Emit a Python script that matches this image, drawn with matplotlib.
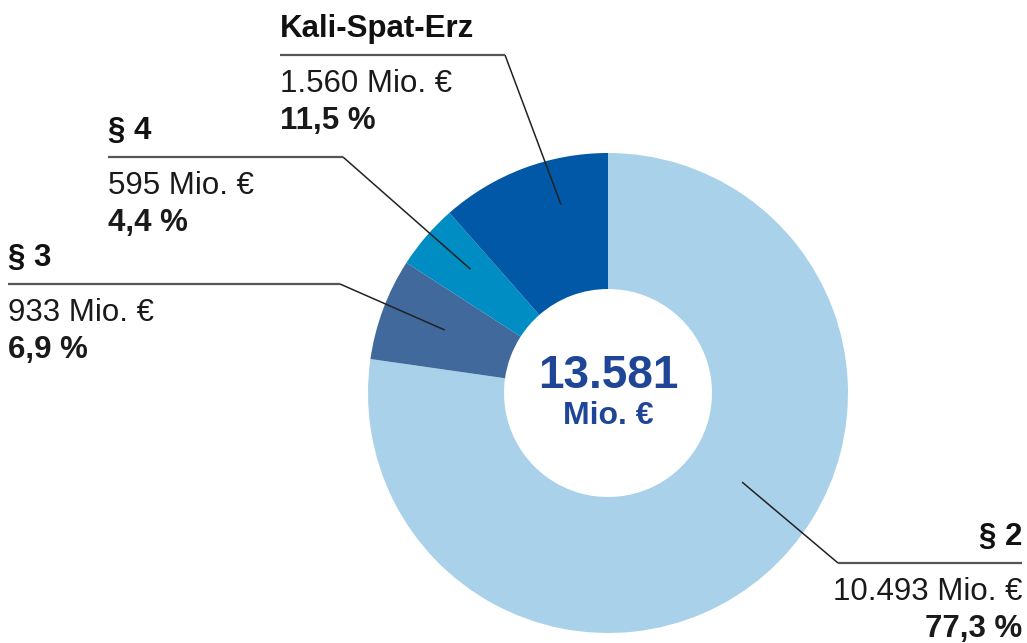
import numpy as np
import matplotlib
matplotlib.use("Agg")
import matplotlib.pyplot as plt

categories = ["§ 2", "§ 3", "§ 4", "Kali-Spat-Erz"]
values = [10493, 933, 595, 1560]
amount_labels = ["10.493 Mio. €", "933 Mio. €", "595 Mio. €", "1.560 Mio. €"]
percent_labels = ["77,3 %", "6,9 %", "4,4 %", "11,5 %"]
total_label = "13.581"
unit_label = "Mio. €"

colors = ["#a9d1e9", "#41699b", "#008dc4", "#0058a6"]
center_color = "#1f4597"
FONT = ["Liberation Sans Narrow", "Liberation Sans", "DejaVu Sans"]

W, H = 1027, 643
fig = plt.figure(figsize=(W / 100, H / 100), dpi=100)
ax = fig.add_axes([0, 0, 1, 1])

def Y(y):
    return H - y

cx, cy, R = 608, Y(393), 240
ring = 136
ax.pie(values, colors=colors, startangle=90, counterclock=False,
       center=(cx, cy), radius=R, frame=True,
       wedgeprops=dict(width=ring, linewidth=0))
ax.set_xlim(0, W)
ax.set_ylim(0, H)
ax.set_aspect("equal")
ax.axis("off")

# layout: (anchor angle deg, anchor radius, elbow x, line y, line end x, align)
layout = [
    (-33.6, 161, 838, 563, 1022, "right"),
    (158.9, 175, 340, 284, 8, "left"),
    (138.0, 185, 343, 157, 108, "left"),
    (104.0, 194, 505, 55, 280, "left"),
]

fs = 22.5
for i, (ang, r, ex, ly, lx, al) in enumerate(layout):
    a = np.deg2rad(ang)
    px, py = cx + r * np.cos(a), cy + r * np.sin(a)
    ax.plot([px, ex], [py, Y(ly)], color="#222222", lw=1.1, solid_capstyle="butt")
    ax.plot([ex, lx], [Y(ly), Y(ly)], color="#555555", lw=1.6, solid_capstyle="butt")
    ax.text(lx, Y(ly) + 11, categories[i], ha=al, va="bottom", fontsize=fs,
            fontweight="bold", family=FONT, color="#111111")
    ax.text(lx, Y(ly) - 14, amount_labels[i], ha=al, va="top", fontsize=fs,
            family=FONT, color="#1a1a1a")
    ax.text(lx, Y(ly) - 51, percent_labels[i], ha=al, va="top", fontsize=fs,
            fontweight="bold", family=FONT, color="#1a1a1a")

ax.text(cx, Y(376), total_label, ha="center", va="center", fontsize=33,
        fontweight="bold", family=FONT, color=center_color)
ax.text(cx, Y(416), unit_label, ha="center", va="center", fontsize=23,
        fontweight="bold", family=FONT, color=center_color)

fig.savefig("out.png", dpi=100)
